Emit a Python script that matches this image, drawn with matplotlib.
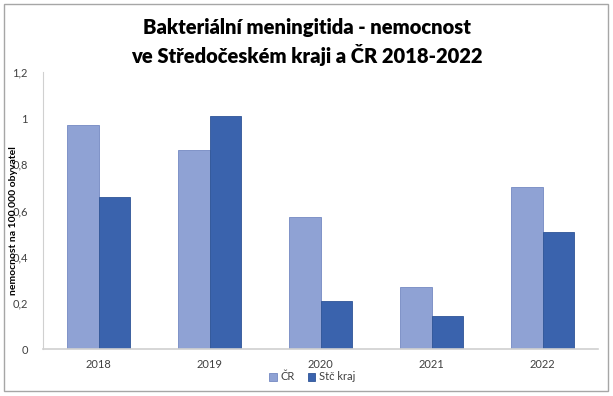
import matplotlib.pyplot as plt
import numpy as np
from matplotlib.patches import FancyBboxPatch

years = ["2018", "2019", "2020", "2021", "2022"]
cr = [0.97, 0.86, 0.57, 0.27, 0.70]
stc = [0.66, 1.01, 0.21, 0.145, 0.505]
yticks = [0, 0.2, 0.4, 0.6, 0.8, 1.0, 1.2]
ytick_labels = ["0", "0,2", "0,4", "0,6", "0,8", "1", "1,2"]

C_CR = "#8FA2D4"
C_STC = "#3A63AD"

plt.rcParams["font.family"] = ["Lato", "DejaVu Sans"]

W, H = 613, 396
fig = plt.figure(figsize=(W / 100, H / 100), dpi=100)

# outer frame of the chart
fig.patches.append(FancyBboxPatch((4 / W, 5 / H), 604 / W, 387 / H,
                                  boxstyle="square,pad=0", transform=fig.transFigure,
                                  fill=False, edgecolor="#A6A6A6", linewidth=1.0))

ax = fig.add_axes([43 / W, (H - 349) / H, 555 / W, (349 - 72) / H])
x = np.arange(len(years))
bw = 0.285
ax.bar(x - bw / 2, cr, bw, color=C_CR, edgecolor="#7489C2", linewidth=0.6, label="ČR")
ax.bar(x + bw / 2, stc, bw, color=C_STC, edgecolor="#2F5597", linewidth=0.6, label="Stč kraj")

ax.set_xlim(-0.5, len(years) - 0.5)
ax.set_ylim(0, 1.2)
ax.set_xticks(x)
ax.set_xticklabels(years, fontsize=8, color="#404040")
ax.set_yticks(yticks)
ax.set_yticklabels(ytick_labels, fontsize=8, color="#404040")
ax.tick_params(length=0, pad=11)
ax.tick_params(axis="x", pad=7)
for s in ["top", "right"]:
    ax.spines[s].set_visible(False)
ax.spines["left"].set_color("#D0D0D0")
ax.spines["bottom"].set_color("#D0D0D0")
ax.spines["bottom"].set_linewidth(1.2)

fig.text(14 / W, 1 - 221 / H, "nemocnost na 100 000 obyvatel", rotation=90,
         ha="center", va="center", fontsize=7.5, fontweight="bold", color="black")

fig.text(0.5, 1 - 42 / H, "Bakteriální meningitida - nemocnost\nve Středočeském kraji a ČR 2018-2022",
         ha="center", va="center", fontsize=14.5, fontweight="heavy", linespacing=1.4)

ax.legend(loc="center", bbox_to_anchor=(312 / W, 1 - 377 / H), bbox_transform=fig.transFigure,
          ncol=2, frameon=False, fontsize=8, handlelength=0.7, handleheight=0.7,
          handletextpad=0.3, columnspacing=1.2, labelcolor="#404040")

fig.savefig("out.png", dpi=100)
